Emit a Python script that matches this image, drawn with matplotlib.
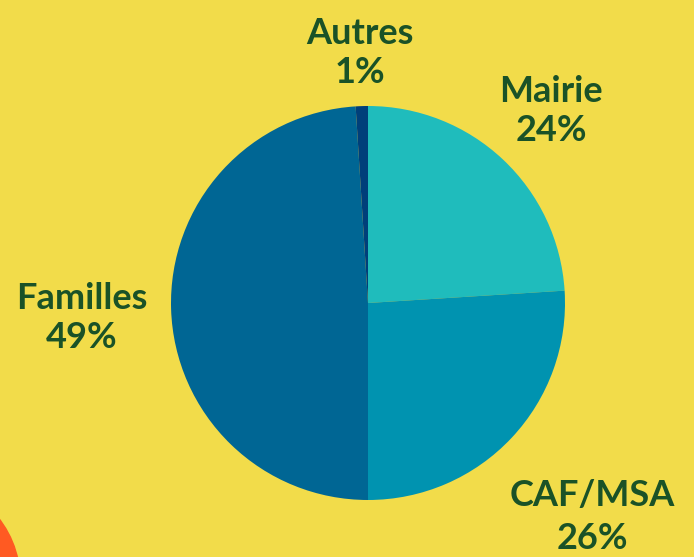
import matplotlib.pyplot as plt
from matplotlib.patches import Circle

# financement par source
labels = ["Mairie", "CAF/MSA", "Familles", "Autres"]
shares = [24, 26, 49, 1]
colors = ["#1fbcbc", "#0093b0", "#006694", "#003f7a"]

bg = "#f2dc4a"
txt = "#1a5227"

fig = plt.figure(figsize=(6.94, 5.57), dpi=100, facecolor=bg)
ax = fig.add_axes([0, 0, 1, 1])
ax.set_facecolor(bg)

# pie in pixel-like units
ax.pie(shares, colors=colors, startangle=90, counterclock=False,
       center=(368, 254), radius=197,
       wedgeprops=dict(linewidth=0))

# orange blob bottom left
ax.add_patch(Circle((-80, -23), 100, color="#ff5a22", zorder=0))

# labels, placed by hand
label_pos = {"Autres": (360, 504), "Mairie": (551, 446),
             "Familles": (82, 239), "CAF/MSA": (592, 40)}
for name, val in zip(labels, shares):
    x, y = label_pos[name]
    ls = 1.38 if name == "CAF/MSA" else 1.2
    ax.text(x, y, f"{name}\n{val}%", ha="center", va="center",
            fontsize=26, fontweight="bold", color=txt,
            family="Lato", linespacing=ls)

ax.set_xlim(0, 694)
ax.set_ylim(0, 557)
ax.set_aspect("equal")
ax.axis("off")

fig.savefig("out.png", dpi=100, facecolor=bg)
